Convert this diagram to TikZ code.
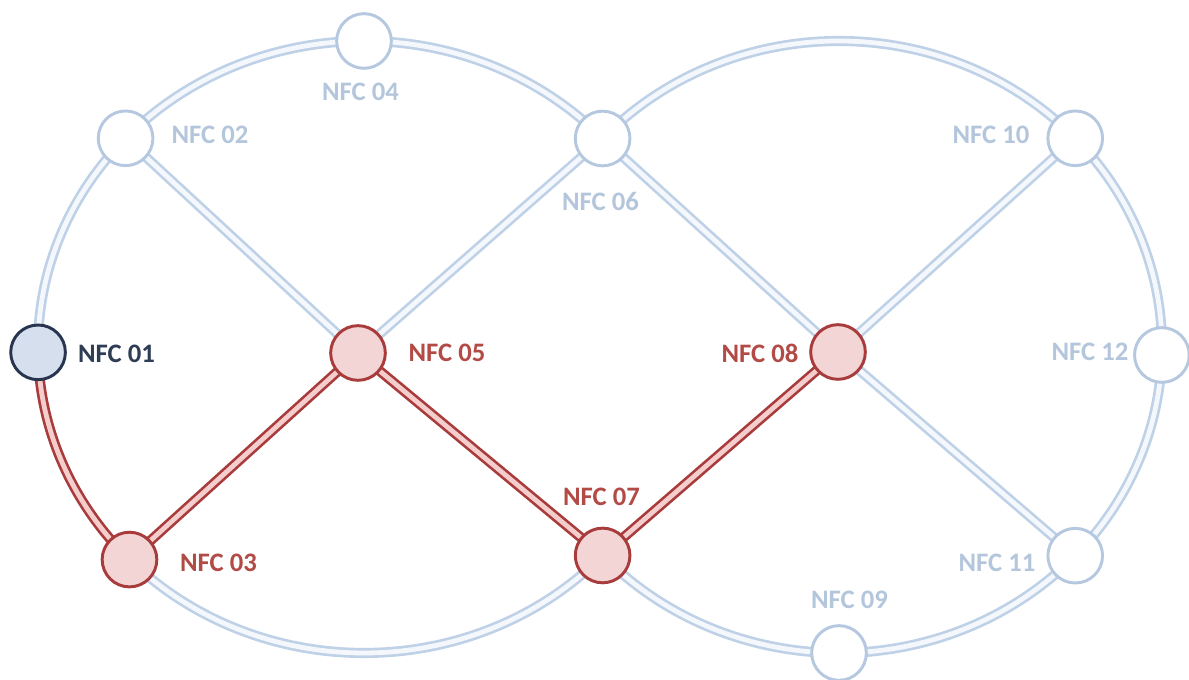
\documentclass[tikz,border=0pt]{standalone}
\usepackage{fontspec}
\setmainfont{Carlito}
\usetikzlibrary{calc}
\definecolor{ringblue}{HTML}{BFD1E7}
\definecolor{ringinner}{HTML}{F4F8FC}
\definecolor{nodeblue}{HTML}{B5C8E0}
\definecolor{lightlab}{HTML}{B4C6DC}
\definecolor{linkred}{HTML}{A83C3C}
\definecolor{linkpink}{HTML}{F5CDCD}
\definecolor{redfill}{HTML}{F3D5D5}
\definecolor{redlab}{HTML}{B24A45}
\definecolor{navy}{HTML}{27354F}
\definecolor{navyfill}{HTML}{D5DFEE}
\definecolor{navylab}{HTML}{2E3D55}
\pgfdeclarelayer{bg}
\pgfsetlayers{bg,main}
\begin{document}
\begin{tikzpicture}[x=0.75pt,y=0.75pt,
  ring/.style={draw=ringblue,double=ringinner,line width=2pt,double distance=3.6pt},
  redlink/.style={draw=linkred,double=linkpink,line width=2pt,double distance=3.6pt},
  station/.style={circle,minimum size=41pt,inner sep=0pt,line width=2.2pt},
  plainst/.style={station,draw=nodeblue,fill=white},
  routest/.style={station,draw=linkred,fill=redfill},
  homest/.style={station,draw=navy,fill=navyfill},
  lab/.style={inner sep=0pt,font=\bfseries\fontsize{20}{24}\selectfont},
  lightlabel/.style={lab,text=lightlab},
  redlabel/.style={lab,text=redlab},
  homelabel/.style={lab,text=navylab}]
\useasboundingbox (0,0) rectangle (1189,680);

% centres of the two loops
\coordinate (L) at (364,333);
\coordinate (R) at (839,333);

% stations
\node[homest]  (n01) at ($(L)+(181:326 and 306)$) {};
\node[plainst] (n02) at ($(L)+(137:326 and 306)$) {};
\node[routest] (n03) at ($(L)+(224:326 and 306)$) {};
\node[plainst] (n04) at ($(L)+(90:326 and 306)$) {};
\node[routest] (n05) at (358,327) {};
\node[plainst] (n06) at ($(L)+(42.95:326 and 306)$) {};
\node[routest] (n07) at ($(L)+(-42.95:326 and 306)$) {};
\node[routest] (n08) at (838,328) {};
\node[plainst] (n09) at ($(R)+(-90:323 and 306)$) {};
\node[plainst] (n10) at ($(R)+(43:323 and 306)$) {};
\node[plainst] (n11) at ($(R)+(-43:323 and 306)$) {};
\node[plainst] (n12) at ($(R)+(-1.5:323 and 306)$) {};

\begin{pgfonlayer}{bg}
  \fill[white] (0,0) rectangle (1189,680);
  % outer loop, left half
  \draw[ring] (n01.center) arc[start angle=181,end angle=137,x radius=326,y radius=306];
  \draw[ring] (n02.center) arc[start angle=137,end angle=90,x radius=326,y radius=306];
  \draw[ring] (n04.center) arc[start angle=90,end angle=42.95,x radius=326,y radius=306];
  \draw[ring] (n07.center) arc[start angle=-42.95,end angle=-136,x radius=326,y radius=306];
  % outer loop, right half
  \draw[ring] (n06.center) arc[start angle=137.05,end angle=43,x radius=323,y radius=306];
  \draw[ring] (n10.center) arc[start angle=43,end angle=-1.5,x radius=323,y radius=306];
  \draw[ring] (n12.center) arc[start angle=-1.5,end angle=-43,x radius=323,y radius=306];
  \draw[ring] (n11.center) arc[start angle=-43,end angle=-90,x radius=323,y radius=306];
  \draw[ring] (n09.center) arc[start angle=-90,end angle=-137.05,x radius=323,y radius=306];
  % cross links
  \draw[ring] (n02.center) -- (n05.center);
  \draw[ring] (n05.center) -- (n06.center);
  \draw[ring] (n06.center) -- (n08.center);
  \draw[ring] (n08.center) -- (n10.center);
  \draw[ring] (n08.center) -- (n11.center);
  % highlighted route
  \draw[redlink] (n03.center) arc[start angle=224,end angle=181,x radius=326,y radius=306];
  \draw[redlink] (n03.center) -- (n05.center);
  \draw[redlink] (n05.center) -- (n07.center);
  \draw[redlink] (n07.center) -- (n08.center);
\end{pgfonlayer}

% station labels
\node[homelabel]  (t01) at (116.5,326) {NFC 01};
\node[lightlabel] (t02) at (210,545) {NFC 02};
\node[redlabel]   (t03) at (218.5,117) {NFC 03};
\node[lightlabel] (t04) at (360.5,588) {NFC 04};
\node[redlabel]   (t05) at (447,327) {NFC 05};
\node[lightlabel] (t06) at (600.5,478) {NFC 06};
\node[redlabel]   (t07) at (601.5,183) {NFC 07};
\node[redlabel]   (t08) at (760,327) {NFC 08};
\node[lightlabel] (t09) at (849.5,80) {NFC 09};
\node[lightlabel] (t10) at (991,545) {NFC 10};
\node[lightlabel] (t11) at (997,117) {NFC 11};
\node[lightlabel] (t12) at (1090,328) {NFC 12};
\end{tikzpicture}
\end{document}
